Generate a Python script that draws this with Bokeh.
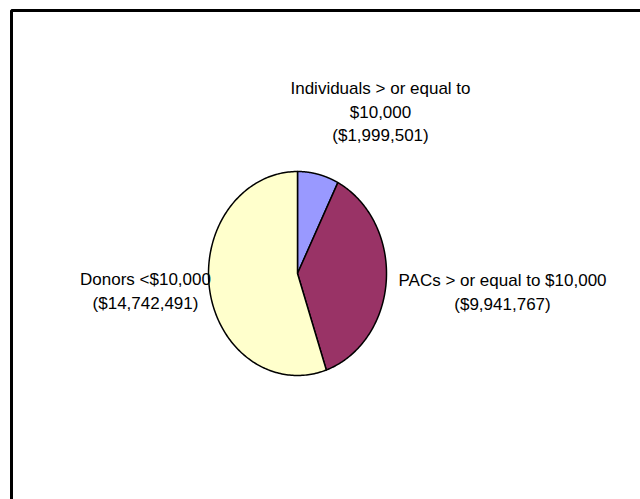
import numpy as np
from bokeh.plotting import figure
from bokeh.models import Range1d
from bokeh.embed import file_html
from bokeh.resources import INLINE
from bokeh.core.properties import value

# ---- data ----
categories = ["Individuals > or equal to $10,000", "PACs > or equal to $10,000", "Donors <$10,000"]
amounts = [1999501, 9941767, 14742491]
colors = ["#9999FF", "#993366", "#FFFFCC"]
label_lines = [
    ["Individuals > or equal to", "$10,000", "($1,999,501)"],
    ["PACs > or equal to $10,000", "($9,941,767)"],
    ["Donors <$10,000", "($14,742,491)"],
]

W, H = 640, 499
p = figure(width=W, height=H, output_backend="svg", toolbar_location=None,
           x_range=Range1d(0, W), y_range=Range1d(H, 0), min_border=0)
p.axis.visible = False
p.grid.visible = False
p.outline_line_color = None
p.background_fill_color = "white"
p.border_fill_color = "white"

# outer chart border (runs off the window at right and bottom)
p.quad(left=[11], right=[700], top=[10], bottom=[560], fill_color=None,
       line_color="black", line_width=3)

# elliptical pie
cx, cy, rx, ry = 297, 273, 89, 102
vals = np.array(amounts, dtype=float)
frac = vals / vals.sum()
cum = np.concatenate([[0], np.cumsum(frac)])
xs, ys = [], []
for i in range(len(vals)):
    a0 = np.pi / 2 - cum[i] * 2 * np.pi
    a1 = np.pi / 2 - cum[i + 1] * 2 * np.pi
    t = np.linspace(a0, a1, 200)
    xs.append([cx] + list(cx + rx * np.cos(t)) + [cx])
    ys.append([cy] + list(cy - ry * np.sin(t)) + [cy])
p.patches(xs, ys, fill_color=colors, line_color="black", line_width=1.5,
          line_join="round")

# labels
label_pos = [(380, 88, 23.5), (502, 280, 23.5), (145, 279, 23.5)]
for lines, (lx, ly, dy) in zip(label_lines, label_pos):
    n = len(lines)
    p.text(x=[lx] * n, y=[ly + k * dy for k in range(n)], text=lines,
           text_align="center", text_baseline="middle",
           text_font=value("Liberation Sans"), text_font_size="17px",
           text_color="black")

open("out.html", "w").write(file_html(p, INLINE))
